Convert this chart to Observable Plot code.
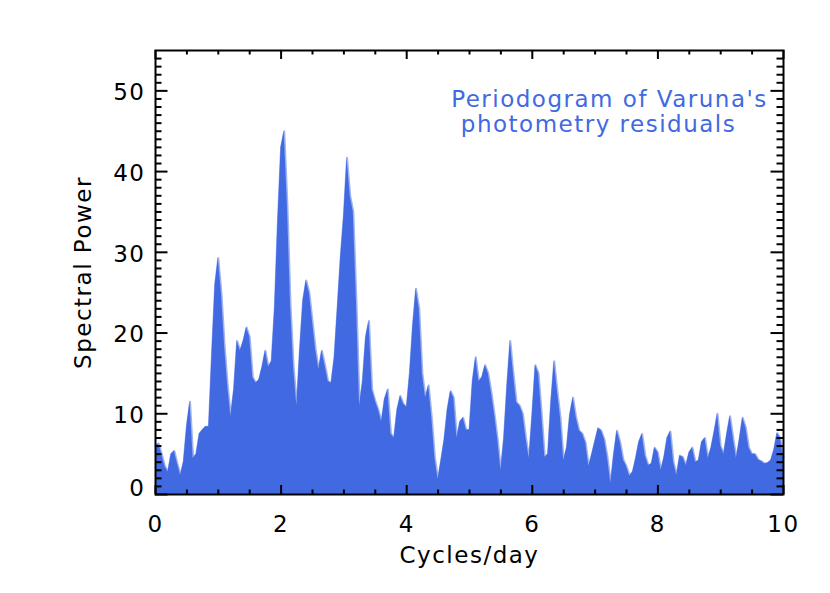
<!DOCTYPE html>
<html>
<head>
<meta charset="utf-8">
<script src="https://cdn.jsdelivr.net/npm/d3@7"></script>
<script src="https://cdn.jsdelivr.net/npm/@observablehq/plot@0.6"></script>
<style>
  html, body { margin: 0; padding: 0; background: #ffffff; }
  #chart svg { display: block; }
</style>
</head>
<body>
<div id="chart"></div>
<script>
// ---- data ----
const freqStart = 0;      // cycles/day of first sample
const freqStep = 0.05;    // spacing of the samples
const power = [
  6.0, 6.3, 5.0, 3.5, 2.8, 5.0, 5.4, 3.8, 2.4, 4.1,
  8.5, 11.5, 4.5, 5.0, 7.5, 8.0, 8.4, 8.4, 17.5, 26.0,
  29.3, 25.0, 18.5, 13.5, 9.7, 13.0, 19.0, 17.8, 19.0, 20.7,
  19.5, 14.5, 13.8, 14.2, 15.8, 17.8, 15.8, 16.5, 23.2, 34.0,
  43.0, 45.0, 36.0, 23.6, 15.8, 11.0, 18.0, 24.0, 26.5, 25.0,
  21.5, 18.0, 15.5, 17.8, 16.0, 14.0, 13.8, 17.0, 23.2, 29.5,
  34.6, 41.7, 37.0, 35.0, 24.0, 11.0, 14.0, 19.5, 21.5, 13.0,
  11.6, 10.5, 9.0, 11.8, 13.0, 7.5, 7.0, 10.5, 12.2, 11.2,
  10.8, 15.0, 21.0, 25.5, 23.0, 15.0, 12.0, 13.5, 9.5, 4.5,
  1.9, 4.3, 6.8, 10.5, 12.8, 12.0, 7.0, 9.0, 9.5, 8.0,
  8.0, 14.0, 17.0, 14.0, 14.5, 16.0, 15.0, 12.6, 9.9, 6.8,
  3.0, 7.0, 13.5, 19.0, 15.0, 11.4, 11.0, 10.0, 7.0, 4.5,
  9.9, 16.0, 15.0, 10.0, 4.6, 5.0, 11.5, 16.5, 12.8, 9.5,
  4.2, 5.8, 9.9, 12.0, 9.5, 7.9, 7.5, 6.4, 3.5, 5.0,
  6.6, 8.2, 7.9, 6.8, 4.5, 1.4, 5.0, 7.9, 6.5, 4.3,
  3.5, 2.3, 2.8, 4.5, 6.5, 7.5, 4.8, 3.6, 3.8, 5.8,
  5.2, 3.0, 4.6, 7.0, 7.8, 4.0, 2.4, 4.8, 4.6, 3.6,
  5.2, 5.8, 4.0, 4.2, 6.5, 7.0, 4.5, 5.8, 7.8, 10.0,
  6.0, 5.0, 7.5, 9.7, 7.0, 4.5, 6.8, 9.5, 8.3, 5.8,
  5.0, 5.0, 4.3, 4.1, 3.8, 3.9, 4.2, 5.5, 7.6, 7.0,
  4.6
];
const xDomain = [0, 10];
const yDomain = [0, 55];
const xMajorTicks = [0, 2, 4, 6, 8, 10];
const xMinorTicks = [0.5, 1, 1.5, 2.5, 3, 3.5, 4.5, 5, 5.5, 6.5, 7, 7.5, 8.5, 9, 9.5];
const yMajorTicks = [0, 10, 20, 30, 40, 50];
const yMinorTicks = [1,2,3,4,5,6,7,8,9,11,12,13,14,15,16,17,18,19,21,22,23,24,25,26,27,28,29,
                     31,32,33,34,35,36,37,38,39,41,42,43,44,45,46,47,48,49,51,52,53,54];
const xLabel = "Cycles/day";
const yLabel = "Spectral Power";
const noteLine1 = "Periodogram of Varuna's";
const noteLine2 = "photometry residuals";

// ---- build table ----
const table = power.map((p, i) => ({f: freqStart + i * freqStep, p}));

// ---- layout ----
const width = 830, height = 593;
const marginLeft = 155, marginRight = 47, marginTop = 50, marginBottom = 99;
const innerW = width - marginLeft - marginRight;
const innerH = height - marginTop - marginBottom;
const blue = "#4169e1";
const font = "DejaVu Sans, sans-serif";

const yMajLen = 12.5, yMinLen = 6.5, xMajLen = 9, xMinLen = 4.5;

const chart = Plot.plot({
  width, height, marginLeft, marginRight, marginTop, marginBottom,
  x: {domain: xDomain, axis: null},
  y: {domain: yDomain, axis: null},
  style: {fontFamily: font, background: "#ffffff", overflow: "visible"},
  marks: [
    Plot.lineY(table, {x: "f", y: "p", stroke: "#9fb3ef", strokeWidth: 2}),
    Plot.areaY(table, {x: "f", y: "p", fill: blue}),
    // y ticks (inward, left and right)
    Plot.tickY(yMajorTicks, {y: d => d, insetRight: innerW - yMajLen, stroke: "black", strokeWidth: 2}),
    Plot.tickY(yMinorTicks, {y: d => d, insetRight: innerW - yMinLen, stroke: "black", strokeWidth: 2}),
    Plot.tickY(yMajorTicks, {y: d => d, insetLeft: innerW - yMajLen, stroke: "black", strokeWidth: 2}),
    Plot.tickY(yMinorTicks, {y: d => d, insetLeft: innerW - yMinLen, stroke: "black", strokeWidth: 2}),
    // x ticks (inward, bottom and top)
    Plot.tickX(xMajorTicks, {x: d => d, insetTop: innerH - xMajLen, stroke: "black", strokeWidth: 2}),
    Plot.tickX(xMinorTicks, {x: d => d, insetTop: innerH - xMinLen, stroke: "black", strokeWidth: 2}),
    Plot.tickX(xMajorTicks, {x: d => d, insetBottom: innerH - xMajLen, stroke: "black", strokeWidth: 2}),
    Plot.tickX(xMinorTicks, {x: d => d, insetBottom: innerH - xMinLen, stroke: "black", strokeWidth: 2}),
    Plot.frame({stroke: "black", strokeWidth: 2}),
    // tick labels
    Plot.axisX({ticks: xMajorTicks, tickSize: 0, tickPadding: 21, fontSize: 23, label: null, tickFormat: d => String(d), fill: "black"}),
    Plot.axisY(yMajorTicks.filter(d => d !== 0), {tickSize: 0, tickPadding: 10, fontSize: 23, label: null, tickFormat: d => String(d), dy: 2, fill: "black"}),
    Plot.axisY([0], {tickSize: 0, tickPadding: 10, fontSize: 23, label: null, tickFormat: d => String(d), dy: -6, fill: "black"}),
    // axis titles
    Plot.text([xLabel], {text: d => d, frameAnchor: "bottom", textAnchor: "middle", lineAnchor: "middle", dy: 61, fontSize: 23, fill: "black"}),
    Plot.text([yLabel], {text: d => d, frameAnchor: "left", textAnchor: "middle", lineAnchor: "middle", dx: -72, rotate: -90, fontSize: 23, fill: "black"}),
    // annotation
    Plot.text([noteLine1], {text: d => d, frameAnchor: "top-right", textAnchor: "middle", lineAnchor: "middle", dx: -174, dy: 49, fontSize: 23, fill: blue}),
    Plot.text([noteLine2], {text: d => d, frameAnchor: "top-right", textAnchor: "middle", lineAnchor: "middle", dx: -185, dy: 74, fontSize: 23, fill: blue})
  ]
});
document.getElementById("chart").appendChild(chart);
// letter spacing to mimic the wide IDL font
chart.querySelectorAll("text").forEach(t => t.setAttribute("letter-spacing", "1.5"));
</script>
</body>
</html>
